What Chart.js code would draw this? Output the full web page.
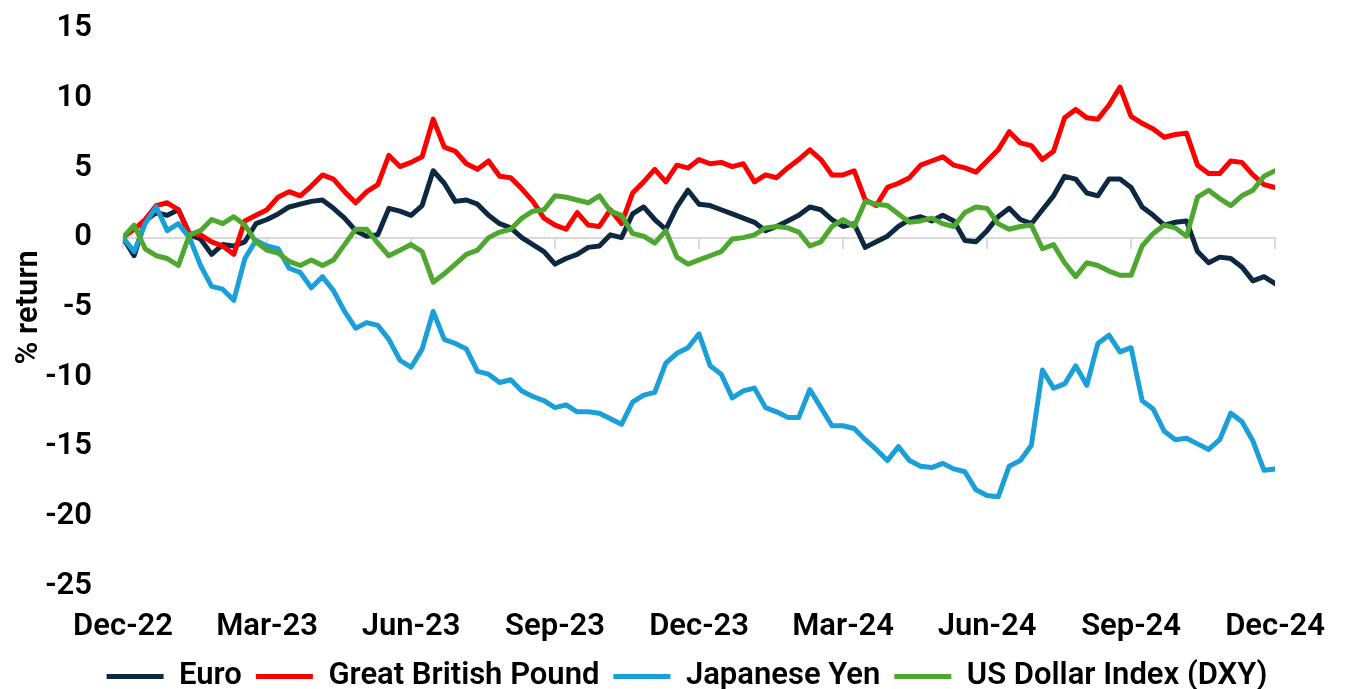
<!DOCTYPE html>
<html>
<head>
<meta charset="utf-8">
<script src="https://cdn.jsdelivr.net/npm/chart.js@4.4.1/dist/chart.umd.min.js"></script>
<style>
html,body{margin:0;padding:0;background:#fff;overflow:hidden}
#wrap{width:1348px;height:689px}
</style>
</head>
<body>
<div id="wrap"><canvas id="fxChart" width="1348" height="689"></canvas></div>
<script>
// quarterly tick labels, 13 weekly points between ticks
var tickLabels=['Dec-22','Mar-23','Jun-23','Sep-23','Dec-23','Mar-24','Jun-24','Sep-24','Dec-24'];
var seriesNames=['Euro','Great British Pound','Japanese Yen','US Dollar Index (DXY)'];
var step=13;

var euro=[0,-1.3,1.2,1.8,1.6,2.0,0.2,-0.1,-1.2,-0.5,-0.6,-0.3,1.0,
 1.3,1.7,2.2,2.4,2.6,2.7,2.1,1.4,0.5,0.1,0.2,2.1,1.9,
 1.6,2.3,4.8,3.9,2.6,2.7,2.4,1.6,1.0,0.7,0.0,-0.5,-1.0,
 -1.9,-1.5,-1.2,-0.7,-0.6,0.2,0.0,1.7,2.2,1.3,0.6,2.2,3.4,
 2.4,2.3,2.0,1.7,1.4,1.1,0.5,0.8,1.2,1.6,2.2,2.0,1.3,
 0.8,1.0,-0.7,-0.3,0.1,0.8,1.3,1.5,1.2,1.6,1.2,-0.2,-0.3,
 0.5,1.5,2.1,1.3,1.0,2.0,3.0,4.4,4.2,3.2,3.0,4.2,4.2,
 3.6,2.2,1.6,0.9,1.1,1.2,-1.0,-1.8,-1.4,-1.5,-2.1,-3.1,-2.8,
 -3.3];
var gbp=[0,0.6,1.3,2.3,2.5,2.0,0.3,0.2,-0.3,-0.6,-1.2,1.2,1.6,
 2.0,2.9,3.3,3.0,3.7,4.5,4.2,3.3,2.5,3.3,3.8,5.9,5.1,
 5.4,5.8,8.5,6.5,6.2,5.3,4.9,5.5,4.4,4.3,3.5,2.6,1.4,
 0.9,0.6,1.8,0.9,0.8,2.0,1.0,3.2,4.0,4.9,4.0,5.2,5.0,
 5.6,5.3,5.4,5.1,5.3,4.0,4.5,4.3,5.0,5.6,6.3,5.6,4.5,
 4.5,4.8,2.7,2.3,3.6,3.9,4.3,5.2,5.5,5.8,5.2,5.0,4.7,
 5.5,6.3,7.6,6.8,6.6,5.6,6.2,8.6,9.2,8.6,8.5,9.5,10.8,
 8.7,8.2,7.8,7.2,7.4,7.5,5.2,4.6,4.6,5.5,5.4,4.5,3.8,
 3.6];
var jpy=[0,-1.0,1.0,2.2,0.5,1.0,0.0,-2.0,-3.5,-3.7,-4.5,-1.5,-0.2,
 -0.6,-0.8,-2.2,-2.5,-3.6,-2.8,-3.8,-5.3,-6.5,-6.1,-6.3,-7.3,-8.8,
 -9.3,-8.0,-5.3,-7.3,-7.6,-8.0,-9.6,-9.8,-10.4,-10.2,-11.0,-11.4,-11.7,
 -12.2,-12.0,-12.5,-12.5,-12.6,-13.0,-13.4,-11.8,-11.3,-11.1,-9.0,-8.3,-7.9,
 -6.9,-9.2,-9.8,-11.5,-11.0,-10.8,-12.2,-12.5,-12.9,-12.9,-10.9,-12.2,-13.5,
 -13.5,-13.7,-14.5,-15.2,-16.0,-15.0,-16.0,-16.4,-16.5,-16.2,-16.6,-16.8,-18.1,
 -18.5,-18.6,-16.4,-16.0,-14.9,-9.5,-10.8,-10.5,-9.2,-10.6,-7.6,-7.0,-8.2,
 -7.9,-11.7,-12.3,-13.9,-14.5,-14.4,-14.8,-15.2,-14.5,-12.6,-13.2,-14.6,-16.7,
 -16.6];
var dxy=[0,0.9,-0.8,-1.3,-1.5,-2.0,0.2,0.5,1.3,1.0,1.5,0.9,-0.3,
 -0.9,-1.1,-1.7,-2.0,-1.6,-2.0,-1.6,-0.5,0.6,0.6,-0.4,-1.3,-0.9,
 -0.5,-1.0,-3.2,-2.6,-1.9,-1.2,-0.9,0.0,0.4,0.6,1.4,1.9,2.0,
 3.0,2.9,2.7,2.5,3.0,1.9,1.6,0.3,0.1,-0.4,0.5,-1.4,-1.9,
 -1.6,-1.3,-1.0,-0.1,0.0,0.2,0.7,0.8,0.7,0.4,-0.6,-0.3,0.8,
 1.3,0.8,2.6,2.4,2.3,1.7,1.1,1.2,1.4,1.0,0.8,1.8,2.2,
 2.1,1.0,0.6,0.8,0.9,-0.8,-0.5,-1.8,-2.8,-1.8,-2.0,-2.4,-2.7,
 -2.7,-0.6,0.3,0.9,0.7,0.1,2.9,3.4,2.8,2.3,3.0,3.4,4.4,
 4.8];
var colors=['#0e2841','#ff0000','#1a9fd9','#4ea72e'];

var F={family:'Roboto',size:31,weight:'600'};
var lastX=(euro.length-1);

function pts(a){return a.map(function(v,i){return {x:i,y:v};});}

var sets=[euro,gbp,jpy,dxy].map(function(a,k){
  return {label:seriesNames[k],data:pts(a),borderColor:colors[k],backgroundColor:colors[k],
    borderWidth:5,pointRadius:0,tension:0,borderJoinStyle:'round',borderCapStyle:'round',
    order:4-k,xAxisID:'x',yAxisID:'y'};
});

new Chart(document.getElementById('fxChart'),{
  type:'line',
  data:{datasets:sets},
  options:{
    responsive:false,animation:false,
    layout:{padding:{top:28,left:26,right:0,bottom:-13}},
    plugins:{
      tooltip:{enabled:false},
      legend:{position:'bottom',labels:{
        sort:function(a,b){return a.datasetIndex-b.datasetIndex;},
        usePointStyle:true,pointStyle:'line',pointStyleWidth:57,boxHeight:5,
        padding:14,color:'#000',font:F}}
    },
    scales:{
      x:{type:'linear',min:0,max:lastX,position:'bottom',
        grid:{display:false,drawTicks:false},border:{display:false},
        ticks:{stepSize:step,autoSkip:false,maxRotation:0,padding:23,color:'#000',font:F,
          callback:function(v){return tickLabels[Math.round(v/step)];}},
        afterFit:function(s){s.height=61;}},
      x0:{type:'linear',min:0,max:lastX,position:{y:0},
        grid:{drawOnChartArea:false,drawTicks:true,tickLength:10,color:'#d9d9d9',lineWidth:2},
        border:{display:true,color:'#d9d9d9',width:2},
        ticks:{display:false,stepSize:step}},
      y:{min:-25,max:15,grid:{display:false,drawTicks:true,tickLength:21},border:{display:false},
        ticks:{stepSize:5,padding:10,color:'#000',font:F},
        title:{display:true,text:'% return',color:'#000',font:F,padding:{top:-15,bottom:0}},
        afterFit:function(s){s.width=97;}},
      yR:{position:'right',grid:{display:false},border:{display:false},ticks:{display:false},
        afterFit:function(s){s.width=55;}}
    }
  }
});
</script>
</body>
</html>
